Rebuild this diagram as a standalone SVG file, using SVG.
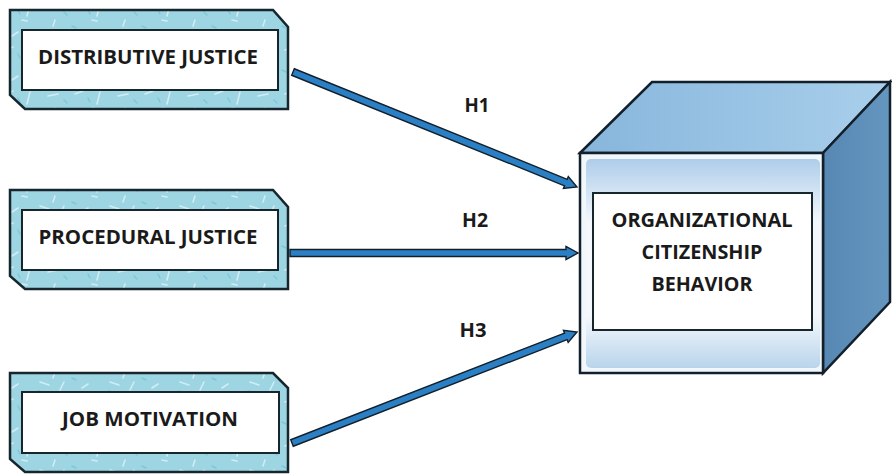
<svg xmlns="http://www.w3.org/2000/svg" width="892" height="474" viewBox="0 0 892 474">
  <defs>
    <pattern id="tex" patternUnits="userSpaceOnUse" width="70" height="44">
      <rect width="70" height="44" fill="#9dd5e3"/>
      <path d="M5,6 l8,-3 M30,4 l-3,12 M48,8 l10,-2 M12,36 l6,-4 M40,30 l9,3 M60,38 l4,-8 M22,20 l5,1 M55,20 l-2,6" stroke="#dff2f7" stroke-width="1.6" stroke-linecap="round" fill="none" opacity="0.8"/>
      <path d="M2,26 l4,2 M34,40 l6,-1 M64,12 l3,3 M18,10 l2,4" stroke="#7cc7da" stroke-width="1.4" stroke-linecap="round" fill="none"/>
    </pattern>
    <linearGradient id="frontGrad" x1="0" y1="0" x2="0" y2="1">
      <stop offset="0" stop-color="#aecdea"/>
      <stop offset="0.3" stop-color="#f4f8fc"/>
      <stop offset="0.75" stop-color="#f4f8fc"/>
      <stop offset="1" stop-color="#b9d4eb"/>
    </linearGradient>
    <linearGradient id="topGrad" x1="0" y1="0" x2="1" y2="0">
      <stop offset="0" stop-color="#87b6dc"/>
      <stop offset="1" stop-color="#a9cfeb"/>
    </linearGradient>
    <linearGradient id="rightGrad" x1="0" y1="0" x2="1" y2="0">
      <stop offset="0" stop-color="#5788b3"/>
      <stop offset="1" stop-color="#6596c0"/>
    </linearGradient>
  </defs>
  <style>
    .outer { fill: url(#tex); stroke: #17262d; stroke-width: 2.5; stroke-linejoin: miter; }
    .inner { fill: #ffffff; stroke: #17262d; stroke-width: 2; }
    .lbl { font-family: "Open Sans", "Liberation Sans", sans-serif; font-weight: 700; fill: #1a1a1a; text-anchor: middle; }
    .arrow { fill: #2b80c5; stroke: #13202b; stroke-width: 1.4; stroke-linejoin: miter; }
    .edge { stroke: #13202b; stroke-width: 2.5; stroke-linejoin: miter; }
  </style>
  <rect width="892" height="474" fill="#ffffff"/>

  <g id="distributive">
    <path class="outer" d="M10,10 L273,10 L288,27 L288,109 L25,109 L10,95 Z"/>
    <rect class="inner" x="22" y="30" width="256" height="60"/>
    <text class="lbl" x="148" y="64" font-size="20" textLength="220" lengthAdjust="spacingAndGlyphs">DISTRIBUTIVE JUSTICE</text>
  </g>

  <g id="procedural">
    <path class="outer" d="M10,190 L273,190 L288,207 L288,289 L25,289 L10,276 Z"/>
    <rect class="inner" x="22" y="210" width="256" height="60"/>
    <text class="lbl" x="148" y="244" font-size="20" textLength="219" lengthAdjust="spacingAndGlyphs">PROCEDURAL JUSTICE</text>
  </g>

  <g id="motivation">
    <path class="outer" d="M10,373 L273,373 L288,388 L288,472 L25,472 L10,459 Z"/>
    <rect class="inner" x="22" y="392" width="257" height="61"/>
    <text class="lbl" x="150" y="426" font-size="20" textLength="176" lengthAdjust="spacingAndGlyphs">JOB MOTIVATION</text>
  </g>

  <g id="ocb">
    <path class="edge" d="M580,153 L652,82 L890,82 L823,153 Z" fill="url(#topGrad)"/>
    <path class="edge" d="M823,153 L890,82 L890,302 L823,373 Z" fill="url(#rightGrad)"/>
    <rect class="edge" x="580" y="153" width="243" height="220" fill="#f2f7fb"/>
    <rect x="586" y="159" width="234" height="209" rx="5" fill="url(#frontGrad)"/>
    <rect class="inner" x="593" y="193" width="219" height="137"/>
    <text class="lbl" x="702" y="227" font-size="20" textLength="181" lengthAdjust="spacingAndGlyphs">ORGANIZATIONAL</text>
    <text class="lbl" x="702" y="259" font-size="20" textLength="121" lengthAdjust="spacingAndGlyphs">CITIZENSHIP</text>
    <text class="lbl" x="702" y="291" font-size="20" textLength="101" lengthAdjust="spacingAndGlyphs">BEHAVIOR</text>
  </g>

  <g id="connectors">
    <path class="arrow" transform="translate(293,72) rotate(22.05)" d="M0,-3.5 L294.4,-3.5 L294.4,-6.5 L306.4,0 L294.4,6.5 L294.4,3.5 L0,3.5 Z"/>
    <path class="arrow" transform="translate(290,253)" d="M0,-3.5 L276,-3.5 L276,-6.5 L288,0 L276,6.5 L276,3.5 L0,3.5 Z"/>
    <path class="arrow" transform="translate(292,443) rotate(-21.28)" d="M0,-3.5 L293.85,-3.5 L293.85,-6.5 L305.85,0 L293.85,6.5 L293.85,3.5 L0,3.5 Z"/>
    <text class="lbl" x="477" y="112" font-size="19" textLength="25" lengthAdjust="spacingAndGlyphs">H1</text>
    <text class="lbl" x="475" y="227" font-size="19" textLength="26" lengthAdjust="spacingAndGlyphs">H2</text>
    <text class="lbl" x="473" y="337" font-size="19" textLength="27" lengthAdjust="spacingAndGlyphs">H3</text>
  </g>
</svg>
